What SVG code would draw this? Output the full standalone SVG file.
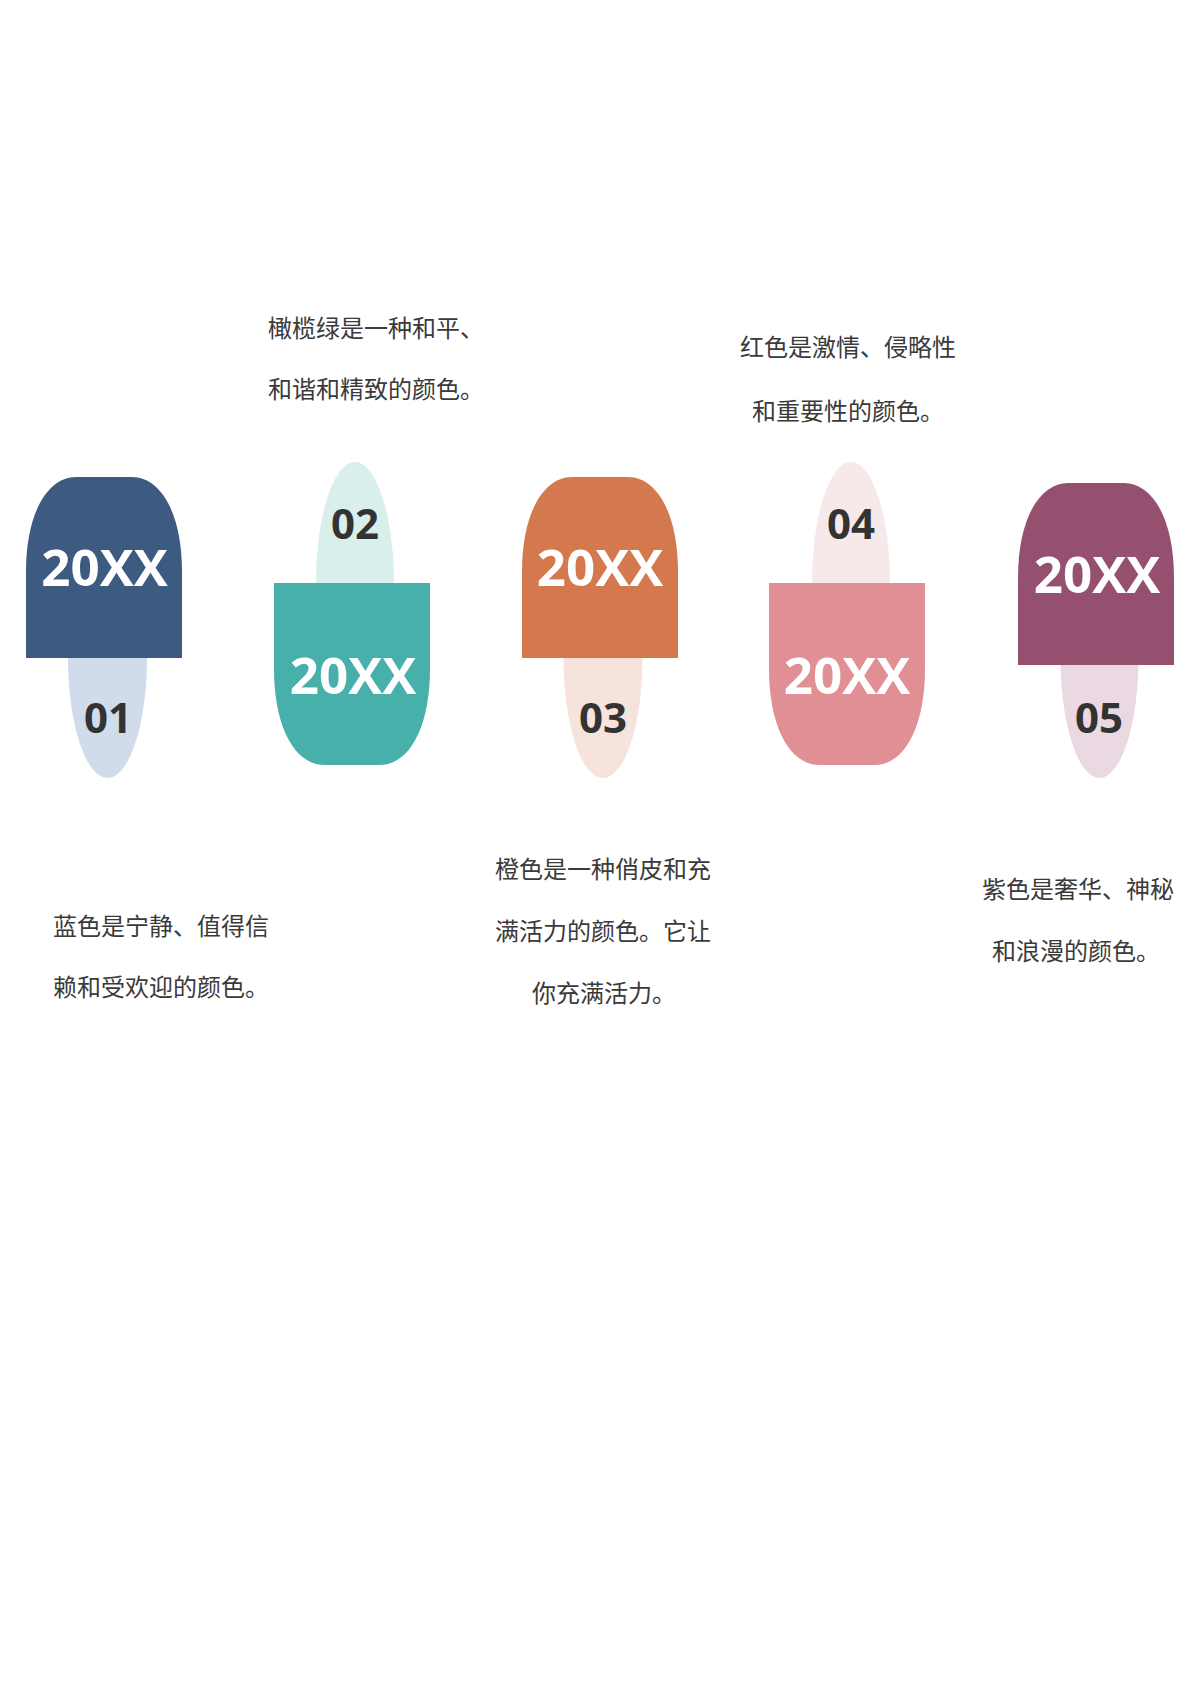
<svg xmlns="http://www.w3.org/2000/svg" width="1191" height="1684" viewBox="0 0 1191 1684">
<style>
.num{font-family:"Open Sans","Noto Sans",sans-serif;font-weight:700;font-size:42px;fill:#333333;text-anchor:middle}
.yr{font-family:"Open Sans","Noto Sans",sans-serif;font-weight:700;font-size:51px;fill:#ffffff;text-anchor:middle}
.desc{font-family:"Noto Sans CJK SC","Noto Sans",sans-serif;font-size:24px;fill:#3a3a3a}
.mid{text-anchor:middle}
</style>
<rect width="1191" height="1684" fill="#ffffff"/>
<g id="connectors"></g>
<g id="node-01">
<ellipse cx="107.5" cy="658" rx="39.5" ry="120" fill="#D0DCEB"/>
<path d="M26,658 L26,572 C26,512 48,477 76,477 L132,477 C160,477 182,512 182,572 L182,658 Z" fill="#3D5B81"/>
<text class="yr" x="104.5" y="586">20XX</text>
<text class="num" x="108" y="733">01</text>
<text class="desc" x="53" y="935">蓝色是宁静、值得信</text>
<text class="desc" x="53" y="996">赖和受欢迎的颜色。</text>
</g>
<g id="node-02">
<ellipse cx="355" cy="583" rx="39" ry="121" fill="#D9EFEC"/>
<path d="M274,583 L274,669 C274,729 296,765 324,765 L380,765 C408,765 430,729 430,669 L430,583 Z" fill="#48B0AB"/>
<text class="yr" x="353" y="694">20XX</text>
<text class="num" x="355" y="539">02</text>
<text class="desc" x="268" y="337">橄榄绿是一种和平、</text>
<text class="desc" x="268" y="398">和谐和精致的颜色。</text>
</g>
<g id="node-03">
<ellipse cx="603" cy="658" rx="39.5" ry="120" fill="#F6E3DB"/>
<path d="M522,658 L522,572 C522,512 544,477 572,477 L628,477 C656,477 678,512 678,572 L678,658 Z" fill="#D4784D"/>
<text class="yr" x="600" y="586">20XX</text>
<text class="num" x="603" y="733">03</text>
<text class="desc mid" x="603" y="878">橙色是一种俏皮和充</text>
<text class="desc mid" x="603" y="940">满活力的颜色。它让</text>
<text class="desc mid" x="604" y="1002">你充满活力。</text>
</g>
<g id="node-04">
<ellipse cx="851" cy="583" rx="39" ry="121" fill="#F7E9EA"/>
<path d="M769,583 L769,669 C769,729 791,765 819,765 L875,765 C903,765 925,729 925,669 L925,583 Z" fill="#E09095"/>
<text class="yr" x="847" y="694">20XX</text>
<text class="num" x="851" y="539">04</text>
<text class="desc mid" x="848" y="356">红色是激情、侵略性</text>
<text class="desc mid" x="848" y="420">和重要性的颜色。</text>
</g>
<g id="node-05">
<ellipse cx="1099.5" cy="658" rx="39" ry="120" fill="#EAD9E2"/>
<path d="M1018,665 L1018,578 C1018,518 1040,483 1068,483 L1124,483 C1152,483 1174,518 1174,578 L1174,665 Z" fill="#955070"/>
<text class="yr" x="1097" y="593">20XX</text>
<text class="num" x="1099" y="733">05</text>
<text class="desc mid" x="1078" y="898">紫色是奢华、神秘</text>
<text class="desc mid" x="1076" y="960">和浪漫的颜色。</text>
</g>
</svg>
